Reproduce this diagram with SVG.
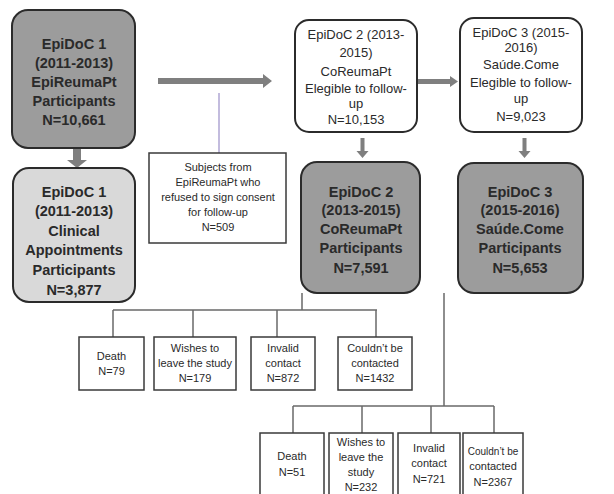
<svg xmlns="http://www.w3.org/2000/svg" width="614" height="494" viewBox="0 0 614 494">
<defs>
<style>
.dark{fill:#9c9c9c;stroke:#2b2b2b;stroke-width:2}
.light{fill:#d9d9d9;stroke:#2b2b2b;stroke-width:2}
.white{fill:#ffffff;stroke:#2b2b2b;stroke-width:2}
.sq{fill:#ffffff;stroke:#3a3a3a;stroke-width:1.5}
.b{font-family:"Liberation Sans",Arial,sans-serif;font-weight:bold;font-size:14.5px;fill:#2a2a2a;text-anchor:middle}
.r{font-family:"Liberation Sans",Arial,sans-serif;font-size:13px;fill:#2a2a2a;text-anchor:middle}
.s{font-family:"Liberation Sans",Arial,sans-serif;font-size:11px;fill:#2a2a2a;text-anchor:middle}
.ln{stroke:#6a6a6a;stroke-width:1.5;fill:none}
.arr{fill:#7f7f7f}
</style>
</defs>
<rect width="614" height="494" fill="#ffffff"/>

<g id="connectors">
<polygon class="arr" points="158,78 263,78 263,74 272,81 263,88 263,84 158,84"/>
<line x1="219" y1="93" x2="219" y2="153" stroke="#9b8fc8" stroke-width="1.2"/>
<polygon class="arr" points="73,148 81,148 81,160 87,160 77,168 67,160 73,160"/>
<polygon class="arr" points="418,79 450,79 450,76 458,81.5 450,87 450,84 418,84"/>
<polygon class="arr" points="360.5,138 364.5,138 364.5,151 368.5,151 362.5,158 356.5,151 360.5,151"/>
<polygon class="arr" points="522.5,138 526.5,138 526.5,151 530.5,151 524.5,158 518.5,151 522.5,151"/>
<path class="ln" d="M302,293 V310 M113,310 H377 M113,310 V337 M193,310 V337 M277,310 V337 M376,310 V337"/>
<path class="ln" d="M444,293 V406 M293,406 H494 M293,406 V433 M362,406 V433 M431,406 V433 M494,406 V433"/>
</g>

<g id="epidoc1">
<rect class="dark" x="12" y="10" width="123" height="138" rx="16"/>
<text class="b" x="74" y="49">EpiDoC 1</text>
<text class="b" x="74" y="68">(2011-2013)</text>
<text class="b" x="74" y="87">EpiReumaPt</text>
<text class="b" x="74" y="106">Participants</text>
<text class="b" x="74" y="125">N=10,661</text>
</g>

<g id="epidoc1-clinical">
<rect class="light" x="13" y="168" width="122" height="134" rx="16"/>
<text class="b" x="74" y="197">EpiDoC 1</text>
<text class="b" x="74" y="216">(2011-2013)</text>
<text class="b" x="74" y="236">Clinical</text>
<text class="b" x="74" y="255">Appointments</text>
<text class="b" x="74" y="275">Participants</text>
<text class="b" x="74" y="295">N=3,877</text>
</g>

<g id="refused">
<rect class="sq" x="149" y="153" width="137" height="90"/>
<text class="s" x="218" y="171">Subjects from</text>
<text class="s" x="218" y="186">EpiReumaPt who</text>
<text class="s" x="218" y="201">refused to sign consent</text>
<text class="s" x="218" y="216">for follow-up</text>
<text class="s" x="218" y="231">N=509</text>
</g>

<g id="epidoc2-eligible">
<rect class="white" x="295" y="20" width="122" height="112" rx="14"/>
<text class="r" x="356" y="39">EpiDoC 2 (2013-</text>
<text class="r" x="356" y="57">2015)</text>
<text class="r" x="356" y="76">CoReumaPt</text>
<text class="r" x="356" y="93">Elegible to follow-</text>
<text class="r" x="356" y="108">up</text>
<text class="r" x="356" y="124">N=10,153</text>
</g>

<g id="epidoc3-eligible">
<rect class="white" x="460" y="18" width="122" height="114" rx="14"/>
<text class="r" x="521" y="37">EpiDoC 3 (2015-</text>
<text class="r" x="521" y="52">2016)</text>
<text class="r" x="521" y="69">Saúde.Come</text>
<text class="r" x="521" y="87">Elegible to follow-</text>
<text class="r" x="521" y="103">up</text>
<text class="r" x="521" y="121">N=9,023</text>
</g>

<g id="epidoc2-participants">
<rect class="dark" x="301" y="162" width="119" height="131" rx="16"/>
<text class="b" x="361" y="197">EpiDoC 2</text>
<text class="b" x="361" y="215">(2013-2015)</text>
<text class="b" x="361" y="234">CoReumaPt</text>
<text class="b" x="361" y="253">Participants</text>
<text class="b" x="361" y="273">N=7,591</text>
</g>

<g id="epidoc3-participants">
<rect class="dark" x="458" y="163" width="125" height="130" rx="16"/>
<text class="b" x="520" y="197">EpiDoC 3</text>
<text class="b" x="520" y="215">(2015-2016)</text>
<text class="b" x="520" y="234">Saúde.Come</text>
<text class="b" x="520" y="253">Participants</text>
<text class="b" x="520" y="273">N=5,653</text>
</g>

<g id="death1">
<rect class="sq" x="79" y="337" width="65" height="53"/>
<text class="s" x="111.5" y="360">Death</text>
<text class="s" x="111.5" y="375">N=79</text>
</g>
<g id="wishes1">
<rect class="sq" x="154" y="337" width="82" height="53"/>
<text class="s" x="195" y="352">Wishes to</text>
<text class="s" x="195" y="367">leave the study</text>
<text class="s" x="195" y="382">N=179</text>
</g>
<g id="invalid1">
<rect class="sq" x="251" y="337" width="64" height="53"/>
<text class="s" x="283" y="352">Invalid</text>
<text class="s" x="283" y="367">contact</text>
<text class="s" x="283" y="382">N=872</text>
</g>
<g id="couldnt1">
<rect class="sq" x="338" y="337" width="74" height="53"/>
<text class="s" x="375" y="352">Couldn’t be</text>
<text class="s" x="375" y="367">contacted</text>
<text class="s" x="375" y="382">N=1432</text>
</g>

<g id="death2">
<rect class="sq" x="260" y="433" width="64" height="70"/>
<text class="s" x="292" y="460">Death</text>
<text class="s" x="292" y="476">N=51</text>
</g>
<g id="wishes2">
<rect class="sq" x="329" y="433" width="64" height="70"/>
<text class="s" x="361" y="446">Wishes to</text>
<text class="s" x="361" y="461">leave the</text>
<text class="s" x="361" y="476">study</text>
<text class="s" x="361" y="491">N=232</text>
</g>
<g id="invalid2">
<rect class="sq" x="398" y="433" width="62" height="70"/>
<text class="s" x="429" y="452">Invalid</text>
<text class="s" x="429" y="467">contact</text>
<text class="s" x="429" y="483">N=721</text>
</g>
<g id="couldnt2">
<rect class="sq" x="463" y="433" width="60" height="70"/>
<text class="s" x="493" y="455" style="font-size:10px">Couldn’t be</text>
<text class="s" x="493" y="470">contacted</text>
<text class="s" x="493" y="486">N=2367</text>
</g>
</svg>
